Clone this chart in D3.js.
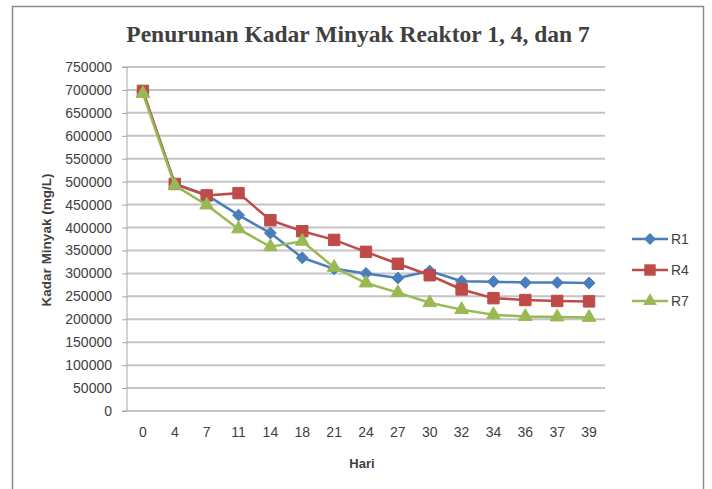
<!DOCTYPE html>
<html>
<head>
<meta charset="utf-8">
<script src="https://cdn.jsdelivr.net/npm/d3@7"></script>
<style>
  body { margin: 0; background: #fff; }
  svg text { fill: #404040; }
</style>
</head>
<body>
<div id="chart"></div>
<script>
// Data
const hari = ["0", "4", "7", "11", "14", "18", "21", "24", "27", "30", "32", "34", "36", "37", "39"];
const r1 = [696000, 495000, 471000, 427000, 388000, 334000, 310000, 300000, 290000, 305000, 283000, 282000, 280000, 280000, 279000];
const r4 = [698000, 495000, 470000, 475000, 416000, 392000, 373000, 347000, 321000, 296000, 265000, 246000, 242000, 240000, 239000];
const r7 = [692000, 492000, 449000, 397000, 358000, 370000, 313000, 279000, 258000, 236000, 221000, 210000, 206000, 205000, 204000];
const yTicks = d3.range(0, 750001, 50000);

const series = [
  { name: "R1", values: r1, color: "#4a7ebb", symbol: d3.symbolDiamond2, size: 90 },
  { name: "R4", values: r4, color: "#be4b48", symbol: d3.symbolSquare, size: 130 },
  { name: "R7", values: r7, color: "#98b954", symbol: d3.symbolTriangle, size: 80 }
];

const svgWidth = 712, svgHeight = 489;
const margin = { top: 67, right: 107, bottom: 78, left: 127 };
const width = svgWidth - margin.left - margin.right;
const height = svgHeight - margin.top - margin.bottom;

const svg = d3.select("#chart")
  .append("svg")
  .attr("width", svgWidth)
  .attr("height", svgHeight);

// outer chart border
svg.append("rect")
  .attr("x", 12.5).attr("y", 6.5)
  .attr("width", 691).attr("height", 500)
  .attr("fill", "none")
  .attr("stroke", "#8c8c8c")
  .attr("stroke-width", 1.5);

const chartGroup = svg.append("g")
  .attr("transform", `translate(${margin.left}, ${margin.top})`);

const x = d3.scaleBand().domain(hari).range([0, width]);
const y = d3.scaleLinear().domain([0, 750000]).range([height, 0]);

// gridlines
chartGroup.append("g")
  .selectAll("line")
  .data(yTicks)
  .enter()
  .append("line")
  .attr("x1", 0).attr("x2", width)
  .attr("y1", d => y(d)).attr("y2", d => y(d))
  .attr("stroke", "#c4c4c4")
  .attr("stroke-width", 2);

// y axis
const leftAxis = d3.axisLeft(y).tickValues(yTicks).tickSize(5).tickPadding(10).tickFormat(d3.format("d"));
const yAxis = chartGroup.append("g").call(leftAxis);
yAxis.select(".domain").attr("stroke", "#a6a6a6").attr("d", `M-5,${height}H0V0H-5`);
yAxis.selectAll(".tick line").attr("stroke", "#a6a6a6");
yAxis.selectAll("text")
  .attr("font-family", "Liberation Sans, Arial, sans-serif")
  .attr("font-size", "14px")
  .attr("fill", "#404040");

// x axis (labels only, baseline is the zero gridline)
const bottomAxis = d3.axisBottom(x).tickSize(0).tickPadding(16);
const xAxis = chartGroup.append("g")
  .attr("transform", `translate(0, ${height})`)
  .call(bottomAxis);
xAxis.select(".domain").remove();
xAxis.selectAll("text")
  .attr("font-family", "Liberation Sans, Arial, sans-serif")
  .attr("font-size", "14px")
  .attr("fill", "#404040");

// lines and markers
const line = d3.line()
  .x((d, i) => x(hari[i]) + x.bandwidth() / 2)
  .y(d => y(d));

series.forEach(s => {
  chartGroup.append("path")
    .datum(s.values)
    .attr("fill", "none")
    .attr("stroke", s.color)
    .attr("stroke-width", 2.5)
    .attr("d", line);

  chartGroup.append("g")
    .selectAll("path")
    .data(s.values)
    .enter()
    .append("path")
    .attr("d", d3.symbol().type(s.symbol).size(s.size))
    .attr("transform", (d, i) => `translate(${x(hari[i]) + x.bandwidth() / 2}, ${y(d)})`)
    .attr("fill", s.color)
    .attr("stroke", s.color)
    .attr("stroke-width", 1);
});

// title
svg.append("text")
  .attr("x", 358)
  .attr("y", 42)
  .attr("text-anchor", "middle")
  .attr("font-family", "Liberation Serif, Times New Roman, serif")
  .attr("font-weight", "bold")
  .attr("font-size", "23.5px")
  .attr("fill", "#1a1a1a")
  .text("Penurunan Kadar Minyak Reaktor 1, 4, dan 7");

// axis titles
svg.append("text")
  .attr("transform", "translate(51, 240) rotate(-90)")
  .attr("text-anchor", "middle")
  .attr("font-family", "Liberation Sans, Arial, sans-serif")
  .attr("font-weight", "bold")
  .attr("font-size", "13.5px")
  .attr("fill", "#1a1a1a")
  .text("Kadar Minyak (mg/L)");

svg.append("text")
  .attr("x", 362)
  .attr("y", 468)
  .attr("text-anchor", "middle")
  .attr("font-family", "Liberation Sans, Arial, sans-serif")
  .attr("font-weight", "bold")
  .attr("font-size", "13px")
  .attr("fill", "#1a1a1a")
  .text("Hari");

// legend
const legend = svg.append("g")
  .selectAll("g")
  .data(series)
  .enter()
  .append("g")
  .attr("transform", (d, i) => `translate(632, ${239 + i * 31})`);

legend.append("line")
  .attr("x1", 0).attr("x2", 36)
  .attr("stroke", d => d.color)
  .attr("stroke-width", 2.5);

legend.append("path")
  .attr("d", d => d3.symbol().type(d.symbol).size(d.size)())
  .attr("transform", "translate(18, 0)")
  .attr("fill", d => d.color);

legend.append("text")
  .attr("x", 39)
  .attr("y", 5)
  .attr("font-family", "Liberation Sans, Arial, sans-serif")
  .attr("font-size", "14px")
  .attr("fill", "#404040")
  .text(d => d.name);
</script>
</body>
</html>
